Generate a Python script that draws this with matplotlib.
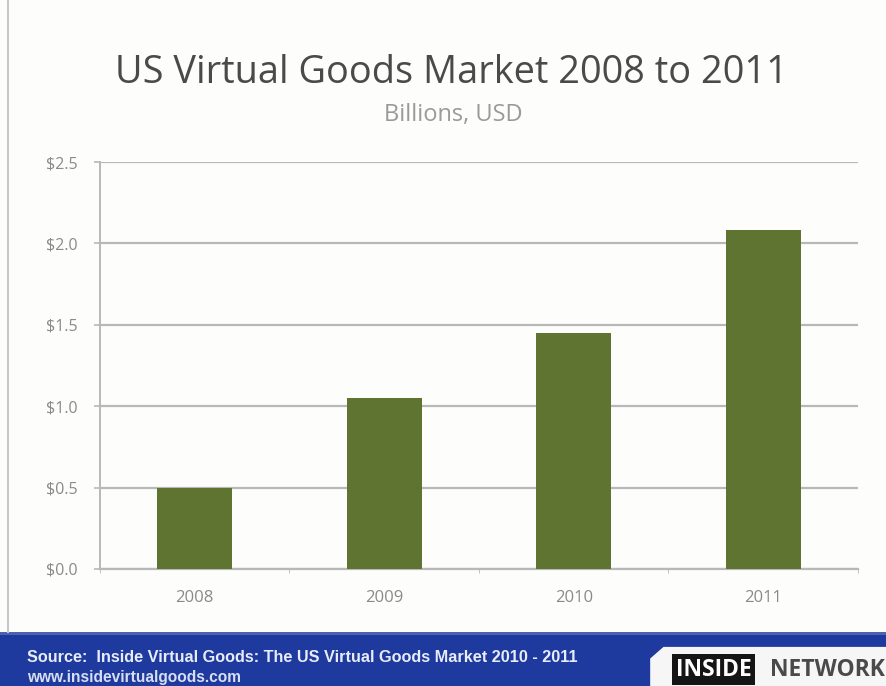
import numpy as np
import matplotlib.pyplot as plt
import matplotlib as mpl
from matplotlib.patches import Rectangle, Polygon

mpl.rc("font", family=["Open Sans", "DejaVu Sans"])

# data (billions USD)
years = ["2008", "2009", "2010", "2011"]
values = [0.50, 1.05, 1.45, 2.08]
y_ticks = [0.0, 0.5, 1.0, 1.5, 2.0, 2.5]
y_labels = ["$0.0", "$0.5", "$1.0", "$1.5", "$2.0", "$2.5"]

BG = "#fdfdfb"
BAR = "#5f7431"
GRID = "#b8b8b8"
TICK = "#8a8a8a"
BLUE = "#1e3a9e"
NARROW = ["Liberation Sans", "DejaVu Sans"]

fig = plt.figure(figsize=(8.87, 6.86), dpi=100, facecolor=BG)

# chart area
ax = fig.add_axes([0.1127, 0.1706, 0.8546, 0.5932])
ax.set_facecolor(BG)
x = np.arange(len(years))
ax.bar(x, values, width=0.395, color=BAR, zorder=3)
ax.set_xlim(-0.5, len(years) - 0.5)
ax.set_ylim(0, 2.5)
ax.set_yticks(y_ticks)
ax.set_yticklabels(y_labels)
ax.set_xticks(x)
ax.set_xticklabels(years)
ax.set_xticks(np.arange(len(years) + 1) - 0.5, minor=True)
ax.yaxis.grid(True, color=GRID, linewidth=1.6, zorder=0)
ax.tick_params(axis="y", length=4, width=1.2, color=GRID, labelcolor=TICK,
               labelsize=11.5, pad=12)
ax.tick_params(axis="x", which="major", length=0, labelcolor=TICK,
               labelsize=12, pad=15)
ax.tick_params(axis="x", which="minor", length=3, color=GRID)
for s in ["top", "right"]:
    ax.spines[s].set_visible(False)
ax.spines["left"].set_color(GRID)
ax.spines["left"].set_linewidth(1.4)
ax.spines["bottom"].set_color(GRID)
ax.spines["bottom"].set_linewidth(1.6)

# titles
fig.text(0.509, 0.893, "US Virtual Goods Market 2008 to 2011", ha="center",
         va="center", fontsize=27.3, color="#4a4a4a")
fig.text(0.511, 0.832, "Billions, USD", ha="center", va="center",
         fontsize=17, color="#9a9a9a")

# slide left border
fig.add_artist(plt.Line2D([0.009, 0.009], [0.079, 1.0], color="#c8c8c8",
                          linewidth=1.5, transform=fig.transFigure))

# footer band
fig.add_artist(Rectangle((0, 0), 1, 0.076, transform=fig.transFigure,
                         facecolor=BLUE, edgecolor="none"))
fig.add_artist(Rectangle((0, 0.074), 1, 0.005, transform=fig.transFigure,
                         facecolor="#4a63b0", edgecolor="none"))
fig.text(0.03, 0.042, "Source:  Inside Virtual Goods: The US Virtual Goods Market 2010 - 2011",
         fontsize=11.7, family=NARROW, color="#e8ecf8", fontweight="bold",
         va="center")
fig.text(0.03, 0.013, "www.insidevirtualgoods.com", fontsize=11.2, family=NARROW,
         color="#d8def2", fontweight="bold", va="center")

# logo plate
fig.add_artist(Polygon([(0.733, 0.0), (0.733, 0.040), (0.748, 0.057),
                        (1.0, 0.057), (1.0, 0.0)], closed=True,
                       transform=fig.transFigure, facecolor="#f6f6f6",
                       edgecolor="none"))
fig.text(0.762, 0.024, "INSIDE", fontsize=16.5, fontweight="bold",
         color="white", va="center",
         bbox=dict(boxstyle="square,pad=0.15", facecolor="#151515",
                   edgecolor="none"))
fig.text(0.868, 0.024, "NETWORK", fontsize=16.5, fontweight="bold",
         color="#4a4a4a", va="center")

plt.savefig("out.png", dpi=100, facecolor=BG)
